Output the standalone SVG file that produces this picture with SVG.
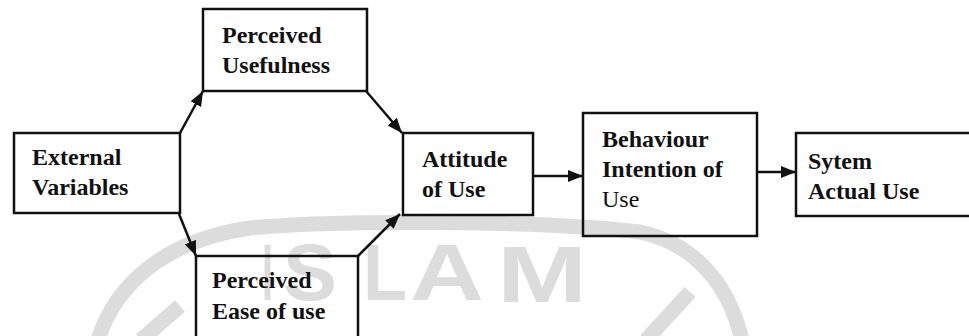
<svg xmlns="http://www.w3.org/2000/svg" width="969" height="336" viewBox="0 0 969 336">
  <style>
    .box { fill: none; stroke: #111; stroke-width: 2.5; }
    .lbl { font-size: 24px; font-weight: bold; fill: #111; }
    .reg { font-weight: normal; }
    .conn { stroke: #111; stroke-width: 2.5; fill: none; marker-end: url(#ah); }
    .wm { fill: #dcdcdc; font-weight: bold; font-size: 80px; }
    .wmline { fill: none; stroke: #dcdcdc; stroke-width: 15; }
  </style>
  <defs>
    <marker id="ah" markerUnits="userSpaceOnUse" markerWidth="15" markerHeight="12" refX="15" refY="6" orient="auto">
      <path d="M0,0 L15,6 L0,12 z" fill="#111"/>
    </marker>
  </defs>
  <rect width="969" height="336" fill="#fff"/>

  <g id="watermark" font-family="Liberation Sans, Arial, sans-serif">
    <path class="wmline" d="M 98 340 C 115 285, 165 240, 250 228 C 330 220, 540 220, 640 232 C 700 245, 730 290, 742 340"/>
    <path class="wmline" d="M 141 340 L 180 306"/>
    <path class="wmline" d="M 646 340 L 690 292"/>
    <text class="wm" x="262" y="300" textLength="11" lengthAdjust="spacingAndGlyphs">I</text>
    <text class="wm" x="283" y="300" textLength="54" lengthAdjust="spacingAndGlyphs">S</text>
    <text class="wm" x="363" y="300" textLength="44" lengthAdjust="spacingAndGlyphs">L</text>
    <text class="wm" x="410" y="300" textLength="74" lengthAdjust="spacingAndGlyphs">A</text>
    <text class="wm" x="497" y="302" textLength="90" lengthAdjust="spacingAndGlyphs">M</text>
  </g>

  <g id="connectors">
    <line class="conn" x1="180" y1="133" x2="203" y2="91"/>
    <line class="conn" x1="366" y1="91" x2="402" y2="133"/>
    <line class="conn" x1="179" y1="214" x2="196" y2="256"/>
    <line class="conn" x1="358" y1="256" x2="400" y2="214"/>
    <line class="conn" x1="533" y1="176" x2="583" y2="176"/>
    <line class="conn" x1="757" y1="172" x2="796" y2="172"/>
  </g>

  <g font-family="Liberation Serif, DejaVu Serif, serif">
  <g id="perceived-usefulness">
    <rect class="box" x="203" y="9" width="164" height="82"/>
    <text class="lbl" x="222" y="43">Perceived</text>
    <text class="lbl" x="222" y="73">Usefulness</text>
  </g>

  <g id="external-variables">
    <rect class="box" x="14" y="133" width="166" height="80"/>
    <text class="lbl" x="32" y="165">External</text>
    <text class="lbl" x="32" y="195">Variables</text>
  </g>

  <g id="perceived-ease">
    <path class="box" d="M 196 340 V 256 H 358 V 340"/>
    <text class="lbl" x="212" y="288">Perceived</text>
    <text class="lbl" x="212" y="319">Ease of use</text>
  </g>

  <g id="attitude">
    <rect class="box" x="403" y="133" width="130" height="82"/>
    <text class="lbl" x="422" y="167">Attitude</text>
    <text class="lbl" x="422" y="197">of Use</text>
  </g>

  <g id="behaviour-intention">
    <rect class="box" x="583" y="113" width="174" height="123"/>
    <text class="lbl" x="602" y="147">Behaviour</text>
    <text class="lbl" x="602" y="177">Intention of</text>
    <text class="lbl reg" x="602" y="207">Use</text>
  </g>

  <g id="system-actual-use">
    <path class="box" d="M 972 133 H 796 V 216 H 972"/>
    <text class="lbl" x="808" y="169">Sytem</text>
    <text class="lbl" x="808" y="199">Actual Use</text>
  </g>
  </g>
</svg>
